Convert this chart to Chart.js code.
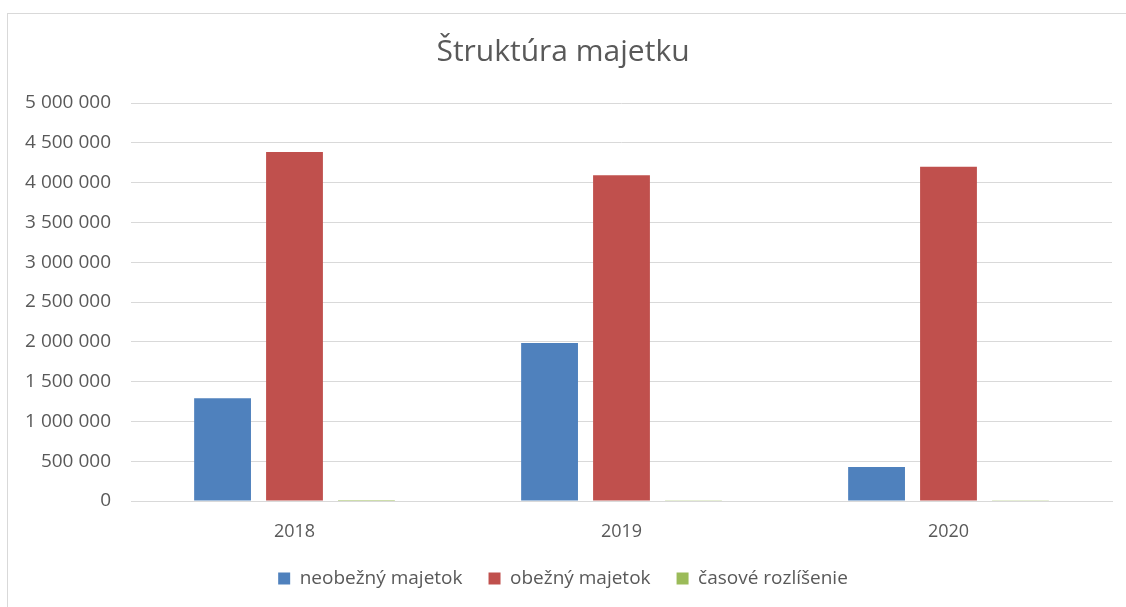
<!DOCTYPE html>
<html>
<head>
<meta charset="utf-8">
<script src="https://cdn.jsdelivr.net/npm/chart.js@4"></script>
<style>
    html, body { margin: 0; padding: 0; background: #fff; }
    #frame {
        position: absolute; left: 7px; top: 13px; width: 1130px; height: 610px;
        border: 1px solid #d9d9d9;
    }
    #wrap { position: absolute; left: 0; top: 0; width: 1126px; height: 607px; }
</style>
</head>
<body>
<div id="frame"></div>
<div id="wrap"><canvas id="chart"></canvas></div>
<script>
const years = ['2018', '2019', '2020'];
const neobezny = [1290000, 1985000, 427000];
const obezny = [4385000, 4092000, 4200000];
const casove = [12000, 3000, 10000];
const yTicks = [0, 500000, 1000000, 1500000, 2000000, 2500000, 3000000, 3500000, 4000000, 4500000, 5000000];

const fontName = '"Open Sans", "Noto Sans", sans-serif';
const textColor = '#595959';

function formatNum(v) {
    return String(v).replace(/\B(?=(\d{3})+(?!\d))/g, ' ');
}

new Chart(document.getElementById('chart'), {
    type: 'bar',
    data: {
        labels: years,
        datasets: [
            { label: 'neobežný majetok', data: neobezny, backgroundColor: '#4F81BD' },
            { label: 'obežný majetok', data: obezny, backgroundColor: '#C0504D' },
            { label: 'časové rozlíšenie', data: casove, backgroundColor: '#9BBB59' }
        ]
    },
    options: {
        responsive: true,
        maintainAspectRatio: false,
        animation: false,
        categoryPercentage: 0.66,
        barPercentage: 0.79,
        layout: { padding: { left: 14, right: 14, top: 34, bottom: 9 } },
        scales: {
            x: {
                grid: { display: false },
                border: { color: '#d9d9d9' },
                afterFit: (scale) => { scale.height = 42; },
                ticks: { color: textColor, font: { family: fontName, size: 18 }, padding: 12 }
            },
            y: {
                min: 0,
                max: 5000000,
                afterBuildTicks: (scale) => { scale.ticks = yTicks.map(v => ({ value: v })); },
                afterFit: (scale) => { scale.width = 117; },
                grid: { color: '#d9d9d9', drawTicks: false },
                border: { display: false },
                ticks: {
                    color: textColor,
                    font: { family: fontName, size: 19 },
                    padding: 20,
                    callback: (v) => formatNum(v)
                }
            }
        },
        plugins: {
            title: {
                display: true,
                text: 'Štruktúra majetku',
                color: textColor,
                font: { family: fontName, size: 30, weight: 'normal' },
                padding: { top: 0, bottom: 33 }
            },
            legend: {
                position: 'bottom',
                labels: {
                    color: textColor,
                    font: { family: fontName, size: 19 },
                    boxWidth: 12,
                    boxHeight: 12,
                    padding: 26
                }
            },
            tooltip: {
                callbacks: {
                    label: (ctx) => ctx.dataset.label + ': ' + formatNum(ctx.raw)
                }
            }
        }
    }
});
</script>
</body>
</html>
